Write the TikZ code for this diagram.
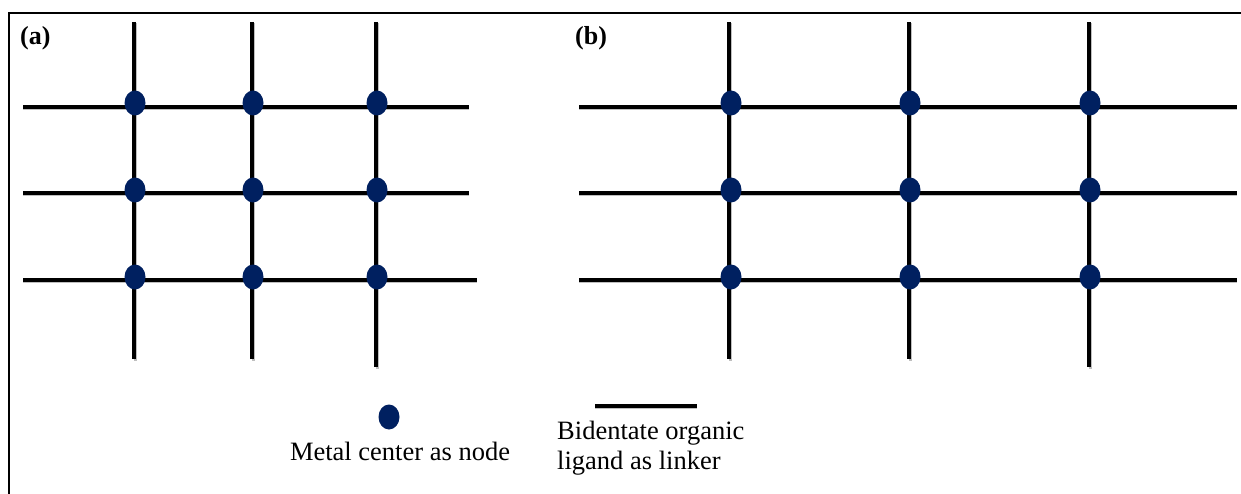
\documentclass[tikz,border=0pt]{standalone}
\usepackage{fontspec}
\setmainfont{Liberation Serif}
\usetikzlibrary{shapes.geometric}
\definecolor{navy}{HTML}{002060}
\tikzset{
  metal/.style={ellipse, fill=navy, draw=none, minimum width=21pt, minimum height=25pt, inner sep=0pt},
  linker/.style={draw=black, line width=3.2pt, line cap=butt},
  shade/.style={draw=black!25, line width=3pt, line cap=butt},
  frameline/.style={draw=black, line width=1.6pt},
  panellabel/.style={font=\fontsize{26}{30}\selectfont\bfseries, anchor=west, inner sep=0pt},
  legendtext/.style={font=\fontsize{26.5}{30}\selectfont, inner sep=0pt}
}
\begin{document}
\begin{tikzpicture}[x=1pt,y=-1pt]
\useasboundingbox (0,0) rectangle (1241,494);
\fill[white] (0,0) rectangle (1241,494);
% frame
\coordinate (f1) at (9,494);
\coordinate (f2) at (9,13);
\coordinate (f3) at (1241,13);
\draw[frameline] (f1) -- (f2) -- (f3);
% panel labels
\node[panellabel] (la) at (20,38) {(a)};
\node[panellabel] (lb) at (575,38) {(b)};
% panel (a) grid
\foreach \i/\x/\b in {1/134/359,2/252/359,3/376/367}{
  \coordinate (av\i t) at (\x,22);
  \coordinate (av\i b) at (\x,\b);
  \draw[shade] ([xshift=1.5pt,yshift=-1.5pt]av\i t) -- ([xshift=1.5pt,yshift=-1.5pt]av\i b);
  \draw[linker] (av\i t) -- (av\i b);
}
\foreach \j/\y/\r in {1/107/469,2/193/469,3/280/477}{
  \coordinate (ah\j l) at (23,\y);
  \coordinate (ah\j r) at (\r,\y);
  \draw[shade] ([yshift=-1.8pt]ah\j l) -- ([yshift=-1.8pt]ah\j r);
  \draw[linker] (ah\j l) -- (ah\j r);
}
\foreach \i/\x in {1/135,2/253,3/377}{
  \foreach \j/\y in {1/103,2/190,3/277}{
    \node[metal] (a\i\j) at (\x,\y) {};
  }
}
% panel (b) grid
\foreach \i/\x/\b in {1/729/359,2/909/359,3/1089/367}{
  \coordinate (bv\i t) at (\x,22);
  \coordinate (bv\i b) at (\x,\b);
  \draw[shade] ([xshift=1.5pt,yshift=-1.5pt]bv\i t) -- ([xshift=1.5pt,yshift=-1.5pt]bv\i b);
  \draw[linker] (bv\i t) -- (bv\i b);
}
\foreach \j/\y in {1/107,2/193,3/280}{
  \coordinate (bh\j l) at (579,\y);
  \coordinate (bh\j r) at (1237,\y);
  \draw[shade] ([yshift=-1.8pt]bh\j l) -- ([yshift=-1.8pt]bh\j r);
  \draw[linker] (bh\j l) -- (bh\j r);
}
\foreach \i/\x in {1/731,2/910,3/1090}{
  \foreach \j/\y in {1/103,2/190,3/277}{
    \node[metal] (b\i\j) at (\x,\y) {};
  }
}
% legend
\node[metal] (legnode) at (389,417) {};
\node[legendtext] (legnodetext) at (400,451) {Metal center as node};
\coordinate (legl) at (595,406);
\coordinate (legr) at (697,406);
\draw[shade] ([yshift=-1.8pt]legl) -- ([yshift=-1.8pt]legr);
\draw[linker] (legl) -- (legr);
\node[legendtext, anchor=north west, align=left] (leglinktext) at (557,421) {Bidentate organic\\ligand as linker};
\end{tikzpicture}
\end{document}
